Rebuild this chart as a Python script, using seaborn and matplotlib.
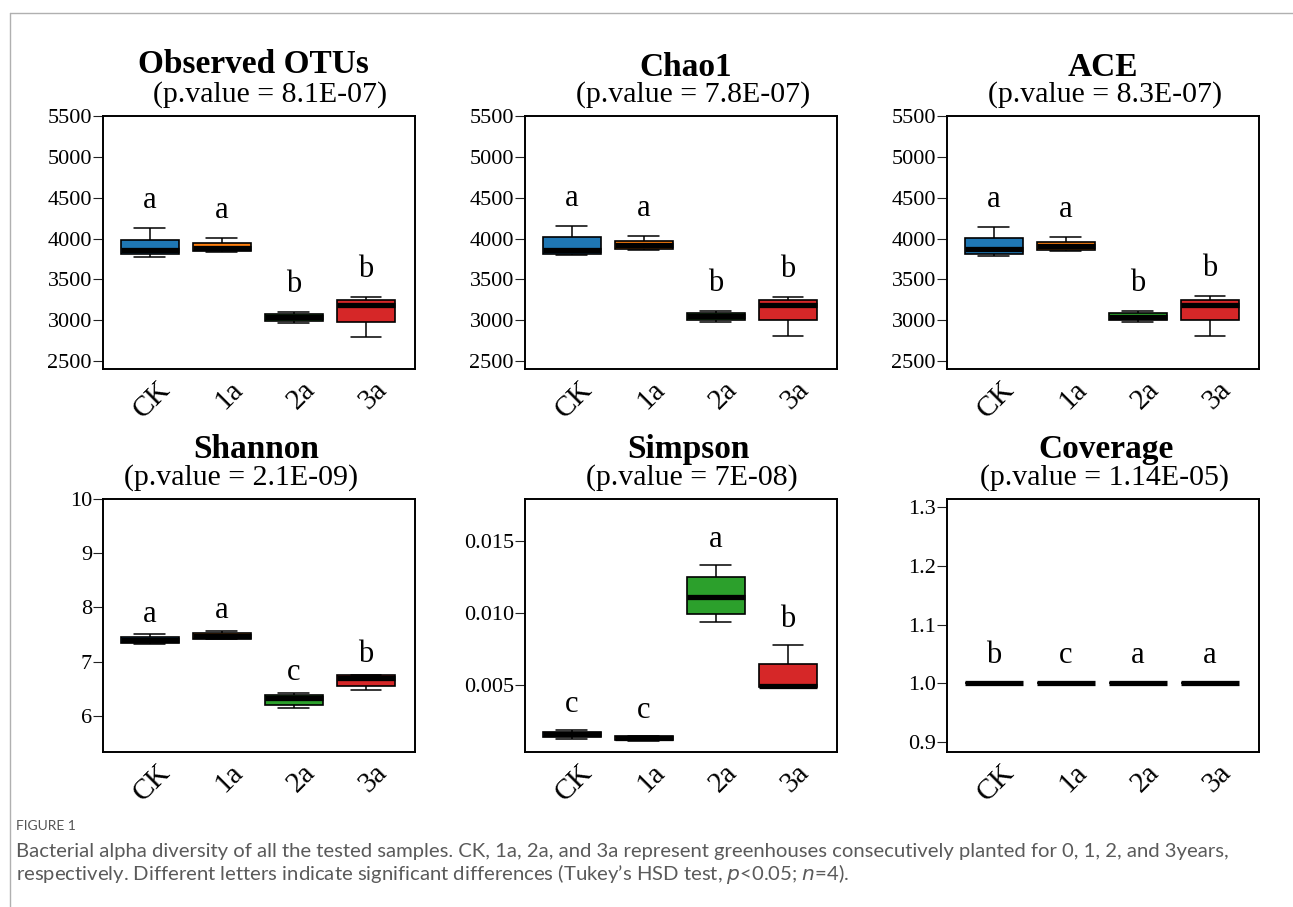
import numpy as np
import pandas as pd
import matplotlib
matplotlib.use("Agg")
import matplotlib.pyplot as plt
import matplotlib.transforms as mtransforms
from matplotlib.lines import Line2D
import seaborn as sns

# ---------------- data ----------------
groups = ["CK", "1a", "2a", "3a"]
box_colors = ["#1f77b4", "#ff7f0e", "#2ca02c", "#d62728"]

# five-number summaries per group: min, Q1, median, Q3, max
otus = [[3778, 3806, 3858, 3988, 4126],
        [3835, 3844, 3885, 3944, 4005],
        [2964, 2988, 3040, 3077, 3101],
        [2794, 2984, 3182, 3243, 3291]]
chao1 = [[3796, 3816, 3866, 4021, 4159],
         [3865, 3878, 3923, 3971, 4028],
         [2980, 3008, 3050, 3090, 3110],
         [2812, 3008, 3183, 3243, 3287]]
ace = [[3793, 3813, 3872, 4004, 4146],
       [3854, 3866, 3915, 3959, 4020],
       [2980, 3004, 3045, 3088, 3110],
       [2805, 3000, 3183, 3244, 3293]]
shannon = [[7.324, 7.337, 7.398, 7.459, 7.503],
           [7.420, 7.422, 7.470, 7.521, 7.564],
           [6.133, 6.201, 6.324, 6.391, 6.422],
           [6.470, 6.550, 6.693, 6.759, 6.760]]
simpson = [[0.00128, 0.00139, 0.00158, 0.00172, 0.00185],
           [0.00112, 0.00116, 0.00130, 0.00146, 0.00148],
           [0.009375, 0.00991, 0.01107, 0.01246, 0.01333],
           [0.00479, 0.00486, 0.00493, 0.00644, 0.00780]]
coverage = [[0.99962, 0.99965, 0.99968, 0.99971, 0.99974],
            [0.99958, 0.99961, 0.99964, 0.99967, 0.99970],
            [0.99970, 0.99973, 0.99976, 0.99979, 0.99982],
            [0.99969, 0.99972, 0.99975, 0.99978, 0.99981]]

titles = ["Observed OTUs", "Chao1", "ACE", "Shannon", "Simpson", "Coverage"]
pvalues = ["8.1E-07", "7.8E-07", "8.3E-07", "2.1E-09", "7E-08", "1.14E-05"]
letters = [["a", "a", "b", "b"],
           ["a", "a", "b", "b"],
           ["a", "a", "b", "b"],
           ["a", "a", "c", "b"],
           ["c", "c", "a", "b"],
           ["b", "c", "a", "a"]]

yticks = [[2500, 3000, 3500, 4000, 4500, 5000, 5500]] * 3 + [
    [6, 7, 8, 9, 10],
    [0.005, 0.010, 0.015],
    [0.9, 1.0, 1.1, 1.2, 1.3]]
ytick_labels = [["2500", "3000", "3500", "4000", "4500", "5000", "5500"]] * 3 + [
    ["6", "7", "8", "9", "10"],
    ["0.005", "0.010", "0.015"],
    ["0.9", "1.0", "1.1", "1.2", "1.3"]]

caption_head = "FIGURE 1"
caption_line1 = ("Bacterial alpha diversity of all the tested samples. CK, 1a, 2a, and 3a represent "
                 "greenhouses consecutively planted for 0, 1, 2, and 3years,")
caption_line2 = ("respectively. Different letters indicate significant differences "
                 "(Tukey\u2019s HSD test, $\\it{p}$<0.05; $\\it{n}$=4).")

# ---------------- layout / style ----------------
ylims = [(2405, 5500), (2405, 5500), (2405, 5500),
         (5.33, 10.0), (0.00035, 0.0179), (0.883, 1.3136)]
letter_pad_px = [20, 20, 20, 12.5, 18, 20]
title_dx = [-6, 5, 0, -3, 7, 3]
sub_dx = [11, 12, 2, -18, 11, 2]
title_up = [43, 40, 40, 41, 41, 41]

sns.set_style("white")
plt.rcParams["font.family"] = ["Liberation Serif", "DejaVu Serif"]
plt.rcParams["mathtext.fontset"] = "custom"
plt.rcParams["text.color"] = "black"
plt.rcParams["xtick.color"] = "black"
plt.rcParams["ytick.color"] = "black"
plt.rcParams["axes.labelcolor"] = "black"

W, H = 1293, 907
fig = plt.figure(figsize=(W / 100, H / 100), dpi=100)

lefts = [103, 525, 947]
tops = [116, 499]
aw, ah = 312, 253

datasets = [otus, chao1, ace, shannon, simpson, coverage]

for i, vals in enumerate(datasets):
    r, c = divmod(i, 3)
    ax = fig.add_axes([lefts[c] / W, 1 - (tops[r] + ah) / H, aw / W, ah / H])
    rows = []
    for g, v in zip(groups, vals):
        for x in v:
            rows.append({"group": g, "value": x})
    df = pd.DataFrame(rows)
    kws = dict(data=df, x="group", y="value", hue="group", order=groups,
               hue_order=groups, palette=box_colors, legend=False, ax=ax,
               width=0.8, saturation=1, linewidth=1.2, linecolor="black",
               whis=(0, 100), showfliers=False,
               medianprops=dict(color="black", linewidth=3.8, solid_capstyle="butt"),
               whiskerprops=dict(color="black", linewidth=1.1),
               capprops=dict(color="black", linewidth=1.1),
               boxprops=dict(edgecolor="black", linewidth=1.2))
    try:
        sns.boxplot(capwidths=0.43, **kws)
    except Exception:
        ax.cla()
        sns.boxplot(**kws)

    ax.set_xlim(-0.65, 3.68)
    ax.set_ylim(*ylims[i])
    ax.set_yticks(yticks[i])
    ax.set_yticklabels(ytick_labels[i], fontsize=16, color="black")
    ax.set_xlabel("")
    ax.set_ylabel("")
    for s in ax.spines.values():
        s.set_visible(True)
        s.set_color("black")
        s.set_linewidth(1.4)
    ax.tick_params(axis="y", direction="out", length=7, width=0.8,
                   pad=1, left=True, color="#222222")
    ax.tick_params(axis="x", length=0, pad=12)
    ax.set_xticks(range(len(groups)))
    ax.set_xticklabels(groups, fontsize=21, rotation=45, ha="right",
                       va="center", rotation_mode="anchor", color="black")
    off = mtransforms.ScaledTranslation(17 / 100, 0, fig.dpi_scale_trans)
    for lab in ax.get_xticklabels():
        lab.set_transform(lab.get_transform() + off)

    # significance letters above the whisker maxima
    for k, (v, let) in enumerate(zip(vals, letters[i])):
        ax.annotate(let, xy=(k, max(v)), xycoords="data",
                    xytext=(0, letter_pad_px[i]), textcoords="offset pixels",
                    ha="center", va="baseline", fontsize=22, color="black")

    # titles
    ax.annotate(titles[i], xy=(0.5, 1.0), xycoords="axes fraction",
                xytext=(title_dx[i], title_up[i]), textcoords="offset pixels",
                ha="center", va="baseline", fontsize=24, fontweight="bold",
                color="black")
    ax.annotate("(p.value = %s)" % pvalues[i], xy=(0.5, 1.0), xycoords="axes fraction",
                xytext=(sub_dx[i], 14), textcoords="offset pixels",
                ha="center", va="baseline", fontsize=21.5, color="black")

# frame lines of the figure panel
fig.add_artist(Line2D([10 / W, 1.0], [1 - 13 / H, 1 - 13 / H], color="#b0b0b0",
                      linewidth=1.0, transform=fig.transFigure))
fig.add_artist(Line2D([10 / W, 10 / W], [1 - 13 / H, 0.0], color="#b0b0b0",
                      linewidth=1.0, transform=fig.transFigure))

# caption
cap_font = ["Lato", "DejaVu Sans"]
fig.text(16 / W, 1 - 826 / H, caption_head, fontsize=10, color="#555555",
         family=cap_font, va="center", ha="left")
fig.text(16 / W, 1 - 851 / H, caption_line1, fontsize=14.6, color="#5a5a5a",
         family=cap_font, va="center", ha="left")
fig.text(16 / W, 1 - 874 / H, caption_line2, fontsize=14.6, color="#5a5a5a",
         family=cap_font, va="center", ha="left")

fig.savefig("out.png", dpi=100, facecolor="white")
